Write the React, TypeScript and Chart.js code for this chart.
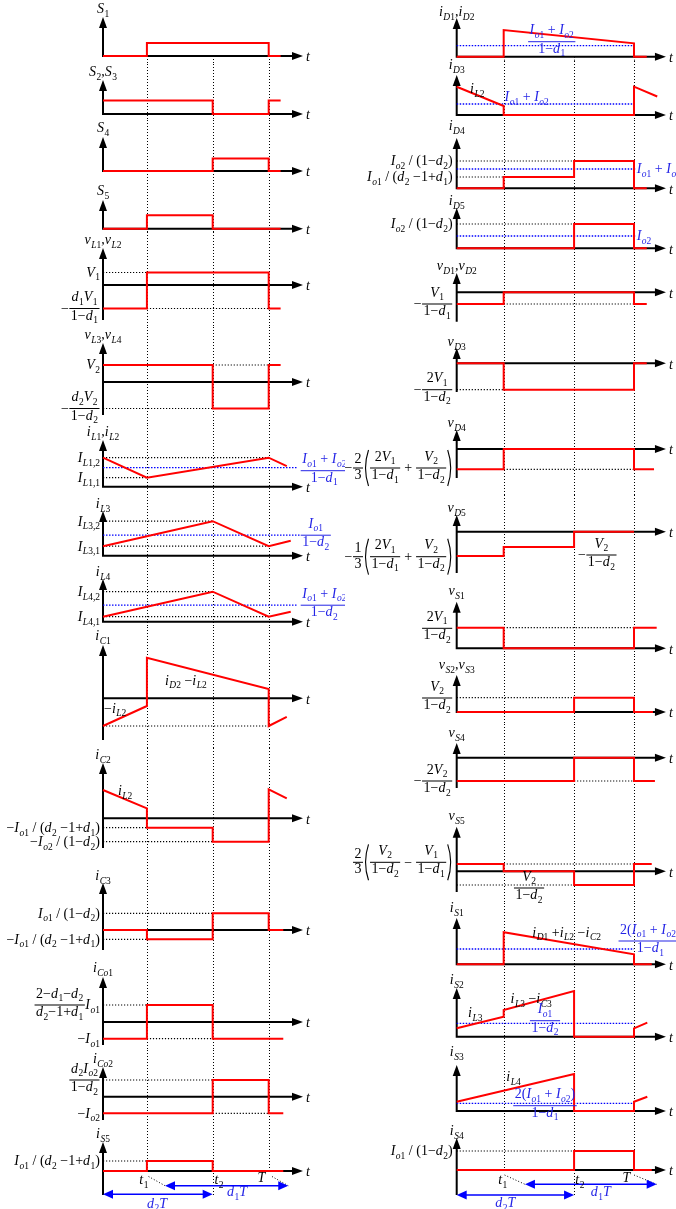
import React, { useEffect, useRef } from "react";
import { Chart, registerables } from "chart.js";

Chart.register(...registerables);

type Pt = [number, number]; // [time / T, level]
type Ref = [number, number, number]; // [level, from, to]
type MNode = string | { f: [MNode[], MNode[]] } | { p: MNode[] };
interface Label {
  x: number;
  y: number;
  m: MNode[];
  al?: "l" | "r" | "c";
  dx?: number;
  dy?: number;
  blue?: boolean;
}

// switching instants as fractions of the period T
const T1 = 0.265;
const T2 = 0.662;
const TP = 1;
const MARKS = [T1, T2, TP];

// ---------- left column waveforms ----------
const wS1: Pt[] = [[0, 0], [T1, 0], [T1, 1.3], [TP, 1.3], [TP, 0], [1.072, 0]];
const wS23: Pt[] = [[0, 1.35], [T2, 1.35], [T2, 0], [TP, 0], [TP, 1.35], [1.072, 1.35]];
const wS4: Pt[] = [[0, 0], [T2, 0], [T2, 1.25], [TP, 1.25], [TP, 0], [1.072, 0]];
const wS5: Pt[] = [[0, 0], [T1, 0], [T1, 1.35], [T2, 1.35], [T2, 0], [1.072, 0]];
const wVL12: Pt[] = [[0, -2.35], [T1, -2.35], [T1, 1.25], [TP, 1.25], [TP, -2.35], [1.072, -2.35]];
const wVL34: Pt[] = [[0, 1.7], [T2, 1.7], [T2, -2.65], [TP, -2.65], [TP, 1.7], [1.072, 1.7]];
const wIL12: Pt[] = [[0, 2.9], [T1, 0.9], [TP, 2.9], [1.109, 2.05]];
const wIL3: Pt[] = [[0, 0.95], [T2, 3.45], [TP, 0.95], [1.133, 1.5]];
const wIL4: Pt[] = [[0, 0.5], [T2, 3.0], [TP, 0.5], [1.133, 1.0]];
const wIC1: Pt[] = [[0, -2.77], [T1, -0.77], [T1, 4.06], [TP, 0.93], [TP, -2.77], [1.109, -1.85]];
const wIC2: Pt[] = [[0, 2.83], [T1, 1.0], [T1, -0.94], [T2, -0.94], [T2, -2.34], [TP, -2.34], [TP, 2.9], [1.109, 2.0]];
const wIC3: Pt[] = [[0, 0], [T1, 0], [T1, -0.93], [T2, -0.93], [T2, 1.67], [TP, 1.67], [TP, 0], [1.088, 0]];
const wICo1: Pt[] = [[0, -1.67], [T1, -1.67], [T1, 1.7], [T2, 1.7], [T2, -1.67], [1.088, -1.67]];
const wICo2: Pt[] = [[0, -1.66], [T2, -1.66], [T2, 1.67], [TP, 1.67], [TP, -1.66], [1.088, -1.66]];
const wIS5: Pt[] = [[0, 0], [T1, 0], [T1, 1.0], [T2, 1.0], [T2, 0], [1.088, 0]];

// ---------- right column waveforms ----------
const wID12: Pt[] = [[0, 0], [T1, 0], [T1, 2.67], [TP, 1.34], [TP, 0], [1.072, 0]];
const wID3: Pt[] = [[0, 2.83], [T1, 0.9], [T1, 0], [TP, 0], [TP, 2.83], [1.131, 1.85]];
const wID4: Pt[] = [[0, 0], [T1, 0], [T1, 1.13], [T2, 1.13], [T2, 2.73], [TP, 2.73], [TP, 0], [1.072, 0]];
const wID5: Pt[] = [[0, 0], [T2, 0], [T2, 2.43], [TP, 2.43], [TP, 0], [1.072, 0]];
const wVD12: Pt[] = [[0, -1.17], [T1, -1.17], [T1, 0], [TP, 0], [TP, -1.17], [1.072, -1.17]];
const wVD3: Pt[] = [[0, 0], [T1, 0], [T1, -2.64], [TP, -2.64], [TP, 0], [1.072, 0]];
const wVD4: Pt[] = [[0, -2.03], [T1, -2.03], [T1, 0], [TP, 0], [TP, -2.03], [1.113, -2.03]];
const wVD5: Pt[] = [[0, -2.43], [T1, -2.43], [T1, -1.53], [T2, -1.53], [T2, 0], [TP, 0]];
const wVS1: Pt[] = [[0, 2.06], [T1, 2.06], [T1, 0], [TP, 0], [TP, 2.06], [1.128, 2.06]];
const wVS23: Pt[] = [[0, 0], [T2, 0], [T2, 1.43], [TP, 1.43], [TP, 0], [1.107, 0]];
const wVS4: Pt[] = [[0, -2.33], [T2, -2.33], [T2, 0], [TP, 0], [TP, -2.33], [1.118, -2.33]];
const wVS5: Pt[] = [[0, 0.73], [T1, 0.73], [T1, 0], [T2, 0], [T2, -1.37], [TP, -1.37], [TP, 0.73], [1.1, 0.73]];
const wIS1: Pt[] = [[0, 0], [T1, 0], [T1, 3.2], [TP, 1.0], [TP, 0], [1.1, 0]];
const wIS2: Pt[] = [[0, 0.84], [T1, 2.0], [T1, 2.67], [T2, 4.57], [T2, 0], [TP, 0], [TP, 0.84], [1.075, 1.4]];
const wIS3: Pt[] = [[0, 0.93], [T2, 3.7], [T2, 0], [TP, 0], [TP, 0.93], [1.075, 1.43]];
const wIS4: Pt[] = [[0, 0], [T2, 0], [T2, 1.9], [TP, 1.9], [TP, 0], [1.1, 0]];

// ---------- dotted level markers (black) and averages (blue) ----------
const refVL12: Ref[] = [[1.25, 0, T1], [-2.35, T1, TP]];
const refVL34: Ref[] = [[1.7, T2, TP], [-2.65, 0, T2]];
const refIL12: Ref[] = [[2.9, 0, TP], [0.9, 0, T1]];
const avgIL12: Ref[] = [[1.9, 0, 1.17]];
const refIL3: Ref[] = [[3.45, 0, T2], [0.95, 0, TP]];
const avgIL3: Ref[] = [[2.05, 0, 1.19]];
const refIL4: Ref[] = [[3.0, 0, T2], [0.5, 0, TP]];
const avgIL4: Ref[] = [[1.65, 0, 1.17]];
const refIC1: Ref[] = [[-2.77, 0, TP]];
const refIC2: Ref[] = [[-0.94, 0, T1], [-2.34, 0, T2]];
const refIC3: Ref[] = [[1.67, 0, T2], [-0.93, 0, T1]];
const refICo1: Ref[] = [[1.7, 0, T1], [-1.67, T1, T2]];
const refICo2: Ref[] = [[1.67, 0, T2], [-1.66, T2, TP]];
const refIS5: Ref[] = [[1.0, 0, T1]];

const avgID12: Ref[] = [[1.1, 0, TP]];
const avgID3: Ref[] = [[1.1, 0, TP]];
const refID4: Ref[] = [[2.73, 0, T2], [1.13, 0, T1]];
const avgID4: Ref[] = [[1.93, 0, 1.01]];
const refID5: Ref[] = [[2.43, 0, T2]];
const avgID5: Ref[] = [[1.23, 0, 1.01]];
const refVD12: Ref[] = [[-1.17, T1, TP]];
const refVD3: Ref[] = [[-2.64, 0, T1]];
const refVD4: Ref[] = [[-2.03, T1, TP]];
const refVS1: Ref[] = [[2.06, T1, TP]];
const refVS23: Ref[] = [[1.43, 0, T2]];
const refVS4: Ref[] = [[-2.33, T2, TP]];
const refVS5: Ref[] = [[0.73, T1, TP], [-1.37, 0, T2]];
const avgIS1: Ref[] = [[1.53, 0, TP]];
const avgIS2: Ref[] = [[1.34, 0, TP]];
const avgIS3: Ref[] = [[0.77, 0, TP]];
const refIS4: Ref[] = [[1.9, 0, T2]];

// interval spans d2T and d1T (level, from, to)
const spanLeft: Ref[] = [[-2.33, 0, T2], [-1.47, 0.374, 1.118]];
const spanRight: Ref[] = [[-2.5, 0, T2], [-1.43, 0.385, 1.128]];

// ---------- styling ----------
const INK = "#000";
const RED = "#ff0000";
const BLUE = "#0000ff";
const BLUE_TXT = "#2424e6";
const SERIF = '"Liberation Serif", "Times New Roman", serif';
const FS = 14;
const SS = 9.5;
const DROP = 3.6;
const AX = 4.3;
const K = 10; // px per level unit
const PAGE_H = 1209;
const PAD = 40;

// math text helpers
const F = (n: string | MNode[], d: string | MNode[]): MNode => ({
  f: [typeof n === "string" ? [n] : n, typeof d === "string" ? [d] : d],
});
const P = (...m: MNode[]): MNode => ({ p: m });
const onAxisL = (y: number, ...m: MNode[]): Label => ({ x: 0, y, m, al: "r", dx: -3 });
const onAxisR = (y: number, ...m: MNode[]): Label => ({ x: 0, y, m, al: "r", dx: -4 });
const blueL = (x: number, y: number, ...m: MNode[]): Label => ({ x, y, m, al: "l", blue: true });
const blueC = (x: number, y: number, ...m: MNode[]): Label => ({ x, y, m, al: "c", blue: true });
const diodeSum = (): MNode => P(F("2V_1", "1-d_1"), " + ", F("V_2", "1-d_2"));

interface Column {
  left: number;
  width: number;
  axisX: number;
  kx: number;
  xEnd: number;
  vTop: number;
  vEnd: number[];
}
interface PanelSpec {
  title: string;
  top: number;
  zero: number;
  tip: number;
  yb?: number;
  tt: number;
  wave: Pt[];
  refs?: Ref[];
  blue?: Ref[];
  labels?: Label[];
  spans?: Ref[];
  slants?: [number, number, number, number][];
}

const LEFT: Column = { left: 0, width: 345, axisX: 103, kx: 165.7, xEnd: 1.207, vTop: 56, vEnd: [1171, 1195, 1171] };
const RIGHT: Column = { left: 338, width: 338, axisX: 456.7, kx: 177.3, xEnd: 1.18, vTop: 56.7, vEnd: [1170, 1195, 1170] };

const LEFT_PANELS: PanelSpec[] = [
  { title: "S_1", top: 0, zero: 56, tip: 17, tt: 9, wave: wS1 },
  { title: "S_2,S_3", top: 64, zero: 114, tip: 80, tt: 72, wave: wS23 },
  { title: "S_4", top: 120, zero: 171, tip: 137, tt: 128, wave: wS4 },
  { title: "S_5", top: 180, zero: 228.7, tip: 200, tt: 191, wave: wS5 },
  {
    title: "v_{L1},v_{L2}", top: 232, zero: 285, tip: 248, yb: 320, tt: 240, wave: wVL12, refs: refVL12,
    labels: [onAxisL(1.25, "V_1"), onAxisL(-2.35, "-", F("d_1V_1", "1-d_1"))],
  },
  {
    title: "v_{L3},v_{L4}", top: 327, zero: 382, tip: 343, yb: 415, tt: 335, wave: wVL34, refs: refVL34,
    labels: [onAxisL(1.7, "V_2"), onAxisL(-2.65, "-", F("d_2V_2", "1-d_2"))],
  },
  {
    title: "i_{L1},i_{L2}", top: 425, zero: 486.7, tip: 440, tt: 432, wave: wIL12, refs: refIL12, blue: avgIL12,
    labels: [onAxisL(2.9, "I_{L1,2}"), onAxisL(0.9, "I_{L1,1}"), blueL(1.19, 1.6, F("I_{o1} + I_{o2}", "1-d_1"))],
  },
  {
    title: "i_{L3}", top: 497, zero: 555.7, tip: 511, tt: 504, wave: wIL3, refs: refIL3, blue: avgIL3,
    labels: [onAxisL(3.45, "I_{L3,2}"), onAxisL(0.95, "I_{L3,1}"), blueL(1.19, 2.05, F("I_{o1}", "1-d_2"))],
  },
  {
    title: "i_{L4}", top: 565, zero: 621.7, tip: 579, tt: 572, wave: wIL4, refs: refIL4, blue: avgIL4,
    labels: [onAxisL(3.0, "I_{L4,2}"), onAxisL(0.5, "I_{L4,1}"), blueL(1.19, 1.65, F("I_{o1} + I_{o2}", "1-d_2"))],
  },
  {
    title: "i_{C1}", top: 627, zero: 698.3, tip: 645, yb: 740, tt: 636, wave: wIC1, refs: refIC1,
    labels: [{ x: 0, y: -1.0, m: ["-i_{L2}"], al: "l", dx: 1 }, { x: 0.5, y: 1.8, m: ["i_{D2} -i_{L2}"], al: "c" }],
  },
  {
    title: "i_{C2}", top: 748, zero: 818.3, tip: 763, yb: 848, tt: 755, wave: wIC2, refs: refIC2,
    labels: [
      { x: 0.09, y: 2.75, m: ["i_{L2}"], al: "l" },
      onAxisL(-0.94, "-I_{o1} / (d_2 -1+d_1)"),
      onAxisL(-2.34, "-I_{o2} / (1-d_2)"),
    ],
  },
  {
    title: "i_{C3}", top: 868, zero: 930, tip: 883, yb: 950, tt: 876, wave: wIC3, refs: refIC3,
    labels: [onAxisL(1.67, "I_{o1} / (1-d_2)"), onAxisL(-0.93, "-I_{o1} / (d_2 -1+d_1)")],
  },
  {
    title: "i_{Co1}", top: 958, zero: 1022, tip: 977, yb: 1045, tt: 968, wave: wICo1, refs: refICo1,
    labels: [onAxisL(1.7, F("2-d_1-d_2", "d_2-1+d_1"), "I_{o1}"), onAxisL(-1.67, "-I_{o1}")],
  },
  {
    title: "i_{Co2}", top: 1050, zero: 1096.7, tip: 1067, yb: 1120, tt: 1059, wave: wICo2, refs: refICo2,
    labels: [onAxisL(1.67, F("d_2I_{o2}", "1-d_2")), onAxisL(-1.66, "-I_{o2}")],
  },
  {
    title: "i_{S5}", top: 1125, zero: 1171, tip: 1142, yb: 1195, tt: 1134, wave: wIS5, refs: refIS5,
    labels: [
      onAxisL(1.0, "I_{o1} / (d_2 -1+d_1)"),
      { x: 0.247, y: -0.9, m: ["t_1"], al: "c" },
      { x: 0.7, y: -0.9, m: ["t_2"], al: "c" },
      { x: 0.958, y: -0.7, m: ["T"], al: "c" },
      blueC(0.327, -3.23, "d_2T"),
      blueC(0.81, -2.07, "d_1T"),
    ],
    spans: spanLeft,
    slants: [[0.275, -0.55, 0.374, -1.47], [1.02, -0.55, 1.118, -1.47]],
  },
];

const RIGHT_PANELS: PanelSpec[] = [
  {
    title: "i_{D1},i_{D2}", top: 0, zero: 56.7, tip: 18, tt: 12, wave: wID12, blue: avgID12,
    labels: [blueC(0.536, 1.5, F("I_{o1} + I_{o2}", "1-d_1"))],
  },
  {
    title: "i_{D3}", top: 61, zero: 115, tip: 75, tt: 65, wave: wID3, blue: avgID3,
    labels: [{ x: 0.075, y: 2.6, m: ["i_{L2}"], al: "l" }, blueL(0.27, 1.83, "I_{o1} + I_{o2}")],
  },
  {
    title: "i_{D4}", top: 120, zero: 188.3, tip: 138, tt: 126, wave: wID4, refs: refID4, blue: avgID4,
    labels: [
      onAxisR(2.73, "I_{o2} / (1-d_2)"),
      onAxisR(1.13, "I_{o1} / (d_2 -1+d_1)"),
      blueL(1.015, 1.93, "I_{o1} + I_{o2}"),
    ],
  },
  {
    title: "i_{D5}", top: 195, zero: 248.3, tip: 208, tt: 201, wave: wID5, refs: refID5, blue: avgID5,
    labels: [onAxisR(2.43, "I_{o2} / (1-d_2)"), blueL(1.015, 1.23, "I_{o2}")],
  },
  {
    title: "v_{D1},v_{D2}", top: 258, zero: 292.3, tip: 273, yb: 321.7, tt: 266, wave: wVD12, refs: refVD12,
    labels: [onAxisR(-1.17, "-", F("V_1", "1-d_1"))],
  },
  {
    title: "v_{D3}", top: 333, zero: 363.3, tip: 348, yb: 392, tt: 342, wave: wVD3, refs: refVD3,
    labels: [onAxisR(-2.64, "-", F("2V_1", "1-d_2"))],
  },
  {
    title: "v_{D4}", top: 410, zero: 449, tip: 430, yb: 478, tt: 423, wave: wVD4, refs: refVD4,
    labels: [onAxisR(-1.9, "-", F("2", "3"), diodeSum())],
  },
  {
    title: "v_{D5}", top: 495, zero: 531.7, tip: 515, yb: 573, tt: 508, wave: wVD5,
    labels: [
      onAxisR(-2.5, "-", F("1", "3"), diodeSum()),
      { x: 0.684, y: -2.33, m: ["-", F("V_2", "1-d_2")], al: "l" },
    ],
  },
  {
    title: "v_{S1}", top: 582, zero: 648.3, tip: 601.7, tt: 591, wave: wVS1, refs: refVS1,
    labels: [onAxisR(2.0, F("2V_1", "1-d_2"))],
  },
  {
    title: "v_{S2},v_{S3}", top: 656, zero: 712, tip: 675, tt: 665, wave: wVS23, refs: refVS23,
    labels: [onAxisR(1.4, F("V_2", "1-d_2"))],
  },
  {
    title: "v_{S4}", top: 724, zero: 757.7, tip: 743, yb: 788, tt: 733, wave: wVS4, refs: refVS4,
    labels: [onAxisR(-2.33, "-", F("2V_2", "1-d_2"))],
  },
  {
    title: "v_{S5}", top: 805, zero: 871.3, tip: 826.7, yb: 892, tt: 816, wave: wVS5, refs: refVS5,
    labels: [
      onAxisR(0.9, F("2", "3"), P(F("V_2", "1-d_2"), " - ", F("V_1", "1-d_1"))),
      { x: 0.408, y: -1.67, m: [F("V_2", "1-d_2")], al: "c" },
    ],
  },
  {
    title: "i_{S1}", top: 903, zero: 964.3, tip: 918, tt: 908, wave: wIS1, blue: avgIS1,
    labels: [
      { x: 0.62, y: 3.2, m: ["i_{D1} +i_{L2} -i_{C2}"], al: "c" },
      blueL(0.91, 2.33, F("2(I_{o1} + I_{o2})", "1-d_1")),
    ],
  },
  {
    title: "i_{S2}", top: 972, zero: 1036.7, tip: 988, tt: 980, wave: wIS2, blue: avgIS2,
    labels: [
      { x: 0.064, y: 2.37, m: ["i_{L3}"], al: "l" },
      { x: 0.42, y: 3.77, m: ["i_{L3} -i_{C3}"], al: "c" },
      blueC(0.498, 1.6, F("I_{o1}", "1-d_2")),
    ],
  },
  {
    title: "i_{S3}", top: 1044, zero: 1111, tip: 1065, tt: 1052, wave: wIS3, blue: avgIS3,
    labels: [{ x: 0.28, y: 3.43, m: ["i_{L4}"], al: "l" }, blueC(0.498, 0.53, F("2(I_{o1} + I_{o2})", "1-d_1"))],
  },
  {
    title: "i_{S4}", top: 1122, zero: 1170, tip: 1138, yb: 1195, tt: 1131, wave: wIS4, refs: refIS4,
    labels: [
      onAxisR(1.9, "I_{o1} / (1-d_2)"),
      { x: 0.26, y: -1.0, m: ["t_1"], al: "c" },
      { x: 0.695, y: -1.0, m: ["t_2"], al: "c" },
      { x: 0.959, y: -0.8, m: ["T"], al: "c" },
      blueC(0.275, -3.27, "d_2T"),
      blueC(0.814, -2.17, "d_1T"),
    ],
    spans: spanRight,
    slants: [[0.27, -0.5, 0.385, -1.43], [1.0, -0.5, 1.128, -1.43]],
  },
];

// ---------- small math typesetter for canvas ----------
interface Run { text: string; it: boolean; sub: boolean }
interface Box { w: number; a: number; d: number; draw: (c: CanvasRenderingContext2D, x: number, b: number) => void }

function parseRuns(s: string): Run[] {
  const out: Run[] = [];
  const push = (ch: string, sub: boolean) => {
    const it = /[A-Za-z]/.test(ch);
    const last = out[out.length - 1];
    if (last && last.it === it && last.sub === sub) last.text += ch;
    else out.push({ text: ch, it, sub });
  };
  for (let i = 0; i < s.length; i++) {
    let ch = s[i];
    if (ch === "_") {
      let grp: string;
      if (s[i + 1] === "{") {
        const j = s.indexOf("}", i);
        grp = s.slice(i + 2, j);
        i = j;
      } else {
        grp = s[i + 1];
        i++;
      }
      for (const c of grp) push(c === "-" ? "\u2212" : c, true);
      continue;
    }
    if (ch === "-") ch = "\u2212";
    push(ch, false);
  }
  return out;
}

const runFont = (r: Run) => `${r.it ? "italic " : ""}${r.sub ? SS : FS}px ${SERIF}`;

function boxText(ctx: CanvasRenderingContext2D, s: string): Box {
  const runs = parseRuns(s);
  const widths = runs.map((r) => {
    ctx.font = runFont(r);
    return ctx.measureText(r.text).width + (r.it && !r.sub ? 0.5 : 0);
  });
  const hasSub = runs.some((r) => r.sub);
  return {
    w: widths.reduce((a, b) => a + b, 0),
    a: FS * 0.68,
    d: hasSub ? DROP + SS * 0.25 : FS * 0.22,
    draw(c, x, b) {
      let cx = x;
      runs.forEach((r, i) => {
        c.font = runFont(r);
        c.fillText(r.text, cx, r.sub ? b + DROP : b);
        cx += widths[i];
      });
    },
  };
}

function boxRow(items: Box[]): Box {
  return {
    w: items.reduce((s, b) => s + b.w, 0),
    a: Math.max(0, ...items.map((b) => b.a)),
    d: Math.max(0, ...items.map((b) => b.d)),
    draw(c, x, b) {
      let cx = x;
      items.forEach((it) => {
        it.draw(c, cx, b);
        cx += it.w;
      });
    },
  };
}

function boxFrac(n: Box, d: Box): Box {
  const w = Math.max(n.w, d.w) + 4;
  const g = 1.5;
  return {
    w,
    a: AX + g + n.d + n.a,
    d: -AX + g + d.a + d.d,
    draw(c, x, b) {
      const bar = b - AX;
      n.draw(c, x + (w - n.w) / 2, bar - g - n.d);
      d.draw(c, x + (w - d.w) / 2, bar + g + d.a);
      c.fillRect(x + 0.5, bar - 0.5, w - 1, 1);
    },
  };
}

function boxParen(inner: Box): Box {
  const pw = 6;
  const w = inner.w + 2 * pw;
  return {
    w,
    a: inner.a + 1,
    d: inner.d + 1,
    draw(c, x, b) {
      inner.draw(c, x + pw, b);
      const top = b - inner.a - 1;
      const bot = b + inner.d + 1;
      const mid = (top + bot) / 2;
      c.lineWidth = 1.1;
      c.beginPath();
      c.moveTo(x + pw - 1, top);
      c.quadraticCurveTo(x - 1, mid, x + pw - 1, bot);
      c.moveTo(x + w - pw + 1, top);
      c.quadraticCurveTo(x + w + 1, mid, x + w - pw + 1, bot);
      c.stroke();
    },
  };
}

function build(ctx: CanvasRenderingContext2D, m: MNode[]): Box {
  return boxRow(
    m.map((n) => {
      if (typeof n === "string") return boxText(ctx, n);
      if ("f" in n) return boxFrac(build(ctx, n.f[0]), build(ctx, n.f[1]));
      return boxParen(build(ctx, n.p));
    })
  );
}

function drawMath(ctx: CanvasRenderingContext2D, m: MNode[], x: number, yc: number, al: "l" | "r" | "c", color: string) {
  const box = build(ctx, m);
  let left = x;
  if (al === "r") left = x - box.w;
  else if (al === "c") left = x - box.w / 2;
  ctx.fillStyle = color;
  ctx.strokeStyle = color;
  box.draw(ctx, left, yc + AX);
}

function arrowHead(ctx: CanvasRenderingContext2D, x: number, y: number, dx: number, dy: number, len: number, half: number) {
  const px = -dy;
  const py = dx;
  ctx.beginPath();
  ctx.moveTo(x, y);
  ctx.lineTo(x - dx * len + px * half, y - dy * len + py * half);
  ctx.lineTo(x - dx * len - px * half, y - dy * len - py * half);
  ctx.closePath();
  ctx.fill();
}

function decoPlugin(col: Column, p: PanelSpec, cTop: number, nomBottom: number) {
  const L = (py: number) => py - cTop;
  return {
    id: "waveDeco",
    beforeDatasetsDraw(chart: any) {
      const ctx: CanvasRenderingContext2D = chart.ctx;
      const xs = chart.scales.x;
      const ys = chart.scales.y;
      ctx.save();
      // instants t1, t2, T
      ctx.strokeStyle = INK;
      ctx.lineWidth = 1;
      ctx.setLineDash([1, 2]);
      MARKS.forEach((t, i) => {
        const a = Math.max(p.top, col.vTop);
        const b = Math.min(nomBottom, col.vEnd[i]);
        if (b <= a) return;
        const x = Math.round(xs.getPixelForValue(t)) + 0.5;
        ctx.beginPath();
        ctx.moveTo(x, L(a));
        ctx.lineTo(x, L(b));
        ctx.stroke();
      });
      ctx.setLineDash([]);
      // axes with arrows
      const x0 = xs.getPixelForValue(0);
      const y0 = ys.getPixelForValue(0);
      const xe = xs.getPixelForValue(col.xEnd);
      ctx.strokeStyle = INK;
      ctx.fillStyle = INK;
      ctx.lineWidth = 2;
      ctx.beginPath();
      ctx.moveTo(x0, p.yb ? L(p.yb) : y0 + 1);
      ctx.lineTo(x0, L(p.tip) + 9);
      ctx.moveTo(x0 - 1, y0);
      ctx.lineTo(xe - 9, y0);
      ctx.stroke();
      arrowHead(ctx, x0, L(p.tip), 0, -1, 11, 4);
      arrowHead(ctx, xe, y0, 1, 0, 11, 4);
      drawMath(ctx, [p.title], x0, L(p.tt), "c", INK);
      drawMath(ctx, ["t"], xe + 3, y0 + 1, "l", INK);
      ctx.restore();
    },
    afterDatasetsDraw(chart: any) {
      const ctx: CanvasRenderingContext2D = chart.ctx;
      const xs = chart.scales.x;
      const ys = chart.scales.y;
      ctx.save();
      (p.slants ?? []).forEach(([xa, ya, xb, yb]) => {
        ctx.strokeStyle = INK;
        ctx.lineWidth = 1;
        ctx.setLineDash([1, 2]);
        ctx.beginPath();
        ctx.moveTo(xs.getPixelForValue(xa), ys.getPixelForValue(ya));
        ctx.lineTo(xs.getPixelForValue(xb), ys.getPixelForValue(yb));
        ctx.stroke();
      });
      ctx.setLineDash([]);
      (p.spans ?? []).forEach(([y, a, b]) => {
        const yy = ys.getPixelForValue(y);
        const xa = xs.getPixelForValue(a);
        const xb = xs.getPixelForValue(b);
        ctx.strokeStyle = BLUE;
        ctx.fillStyle = BLUE;
        ctx.lineWidth = 1.6;
        ctx.beginPath();
        ctx.moveTo(xa + 6, yy);
        ctx.lineTo(xb - 6, yy);
        ctx.stroke();
        arrowHead(ctx, xa, yy, -1, 0, 10, 4.5);
        arrowHead(ctx, xb, yy, 1, 0, 10, 4.5);
      });
      (p.labels ?? []).forEach((lab) => {
        drawMath(
          ctx,
          lab.m,
          xs.getPixelForValue(lab.x) + (lab.dx ?? 0),
          ys.getPixelForValue(lab.y) + (lab.dy ?? 0),
          lab.al ?? "l",
          lab.blue ? BLUE_TXT : INK
        );
      });
      ctx.restore();
    },
  };
}

function Panel({ col, p, bottom }: { col: Column; p: PanelSpec; bottom: number }) {
  const ref = useRef<HTMLCanvasElement | null>(null);
  const cTop = Math.max(0, p.top - PAD);
  const cBot = Math.min(PAGE_H, bottom + PAD);
  const h = cBot - cTop;

  useEffect(() => {
    const canvas = ref.current;
    if (!canvas) return;
    const datasets: any[] = [
      {
        data: p.wave.map(([x, y]) => ({ x, y })),
        borderColor: RED,
        borderWidth: 2,
        pointRadius: 0,
        tension: 0,
        fill: false,
        clip: false,
        order: 0,
      },
    ];
    (p.blue ?? []).forEach(([y, a, b]) =>
      datasets.push({
        data: [{ x: a, y }, { x: b, y }],
        borderColor: BLUE,
        borderWidth: 1.3,
        borderDash: [1.5, 1.5],
        pointRadius: 0,
        fill: false,
        clip: false,
        order: 1,
      })
    );
    (p.refs ?? []).forEach(([y, a, b]) =>
      datasets.push({
        data: [{ x: a, y }, { x: b, y }],
        borderColor: INK,
        borderWidth: 1.2,
        borderDash: [1.2, 1.8],
        pointRadius: 0,
        fill: false,
        clip: false,
        order: 2,
      })
    );
    const chart = new Chart(canvas, {
      type: "line",
      data: { datasets },
      options: {
        animation: false,
        responsive: false,
        maintainAspectRatio: false,
        devicePixelRatio: 1,
        events: [],
        layout: { padding: 0 },
        plugins: { legend: { display: false }, tooltip: { enabled: false }, title: { display: false } },
        scales: {
          x: {
            type: "linear",
            display: false,
            bounds: "data",
            min: -(col.axisX - col.left) / col.kx,
            max: (col.left + col.width - col.axisX) / col.kx,
          },
          y: {
            type: "linear",
            display: false,
            bounds: "data",
            min: -(cBot - p.zero) / K,
            max: (p.zero - cTop) / K,
          },
        },
      },
      plugins: [decoPlugin(col, p, cTop, bottom)],
    } as any);
    return () => chart.destroy();
  }, []);

  return (
    <canvas
      ref={ref}
      width={col.width}
      height={h}
      style={{ position: "absolute", left: col.left, top: cTop, width: col.width, height: h }}
    />
  );
}

function ColumnView({ col, panels }: { col: Column; panels: PanelSpec[] }) {
  return (
    <>
      {panels.map((p, i) => (
        <Panel key={i} col={col} p={p} bottom={i + 1 < panels.length ? panels[i + 1].top : PAGE_H} />
      ))}
    </>
  );
}

export default function App() {
  return (
    <div style={{ position: "absolute", left: 0, top: 0, width: 676, height: PAGE_H, background: "#fff", overflow: "hidden" }}>
      <ColumnView col={LEFT} panels={LEFT_PANELS} />
      <ColumnView col={RIGHT} panels={RIGHT_PANELS} />
    </div>
  );
}
